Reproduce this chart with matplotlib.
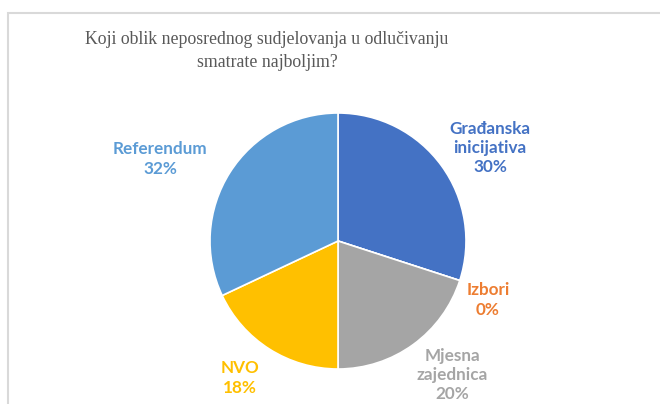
import matplotlib

matplotlib.use("Agg")
import matplotlib.pyplot as plt
from matplotlib.patches import Rectangle

# data
categories = ["Građanska\ninicijativa", "Izbori", "Mjesna\nzajednica", "NVO", "Referendum"]
shares = [30, 0, 20, 18, 32]
colors = ["#4472C4", "#ED7D31", "#A5A5A5", "#FFC000", "#5B9BD5"]
label_pos = [(490, 148), (488, 300), (452, 375), (240, 378), (160, 159)]

title = "Koji oblik neposrednog sudjelovanja u odlučivanju\nsmatrate najboljim?"

W, H = 660, 404
fig = plt.figure(figsize=(W / 100, H / 100), dpi=100)
ax = fig.add_axes([0, 0, 1, 1])
ax.set_xlim(0, W)
ax.set_ylim(0, H)
ax.set_aspect("equal")
ax.axis("off")

# chart area border (runs off the right and bottom edges)
ax.add_patch(Rectangle((7.5, -10), W + 20, H - 12.5 + 10, fill=False,
                       edgecolor="#D9D9D9", linewidth=1.5))

ax.pie(shares, colors=colors, startangle=90, counterclock=False,
       center=(338, H - 241), radius=128,
       wedgeprops=dict(edgecolor="white", linewidth=1.2))
ax.set_xlim(0, W)
ax.set_ylim(0, H)

for name, val, col, (x, y) in zip(categories, shares, colors, label_pos):
    ax.text(x, H - y, f"{name}\n{val}%", color=col, ha="center", va="center",
            fontsize=12.3, fontweight="bold", family="Lato", linespacing=1.25)

ax.text(267, H - 51, title, ha="center", va="center", color="#595959",
        fontsize=12.8, family="Liberation Serif", linespacing=1.45)

fig.savefig("out.png", dpi=100)
